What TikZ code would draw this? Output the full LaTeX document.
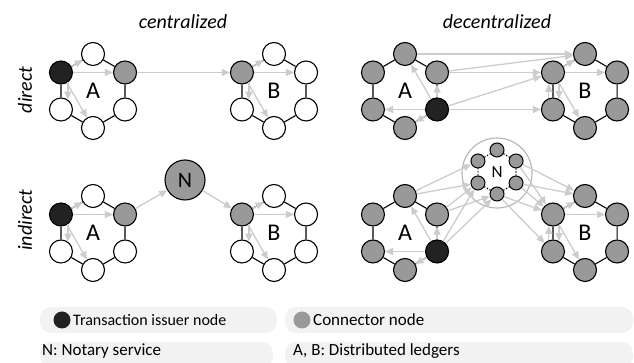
\documentclass[tikz,border=0pt]{standalone}
\usepackage{fontspec}
\setmainfont{Carlito}
\usetikzlibrary{arrows.meta}
\definecolor{issuer}{HTML}{222222}
\definecolor{connector}{HTML}{999999}
\definecolor{flowgray}{HTML}{CCCCCC}
\definecolor{keygray}{HTML}{F2F2F2}
\definecolor{ringgray}{HTML}{B4B4B4}
\begin{document}
\begin{tikzpicture}[x=1pt,y=1pt]
\tikzset{peer/.style={circle,minimum size=23pt,inner sep=0pt,draw,line width=1.1pt,fill=white},
  notar/.style={circle,minimum size=14pt,inner sep=0pt,draw,line width=1pt,fill=connector},
  flow/.style={-{Triangle[length=8pt,width=7pt]},flowgray,line width=1.3pt},
  ring/.style={line width=1.1pt},
  ledger/.style={font=\fontsize{24}{24}\selectfont},
  heading/.style={font=\fontsize{20}{20}\selectfont\itshape},
  keybox/.style={fill=keygray,rounded corners=11pt,inner sep=0pt,minimum height=26pt},
  keytext/.style={anchor=west,inner sep=0pt,font=\fontsize{17}{17}\selectfont}}

\useasboundingbox (0,0) rectangle (634,363);
\clip (0,0) rectangle (634,363);

% headings
\node[heading] (hcen) at (183,341) {centralized};
\node[heading] (hdec) at (497,341) {decentralized};
\node[heading,rotate=90] (hdir) at (25,273) {direct};
\node[heading,rotate=90] (hind) at (25,143) {indirect};

% centralized, direct
\begin{scope}[shift={(93,272)}]
  \foreach \n/\a/\f in {t/90/white,rt/30/connector,rb/-30/white,b/-90/white,lb/-150/white,lt/150/issuer}
    \draw (\a:37) node[peer,fill=\f] (A1\n) {};
  \node[ledger] (A1lab) at (0,0) {A};
\end{scope}
\begin{scope}[shift={(274,272)}]
  \foreach \n/\a/\f in {t/90/white,rt/30/white,rb/-30/white,b/-90/white,lb/-150/white,lt/150/connector}
    \draw (\a:37) node[peer,fill=\f] (B1\n) {};
  \node[ledger] (B1lab) at (0,0) {B};
\end{scope}

% centralized, indirect
\begin{scope}[shift={(93,130)}]
  \foreach \n/\a/\f in {t/90/white,rt/30/connector,rb/-30/white,b/-90/white,lb/-150/white,lt/150/issuer}
    \draw (\a:37) node[peer,fill=\f] (A3\n) {};
  \node[ledger] (A3lab) at (0,0) {A};
\end{scope}
\begin{scope}[shift={(274,130)}]
  \foreach \n/\a/\f in {t/90/white,rt/30/white,rb/-30/white,b/-90/white,lb/-150/white,lt/150/connector}
    \draw (\a:37) node[peer,fill=\f] (B3\n) {};
  \node[ledger] (B3lab) at (0,0) {B};
\end{scope}
\draw (185,183) node[peer,minimum size=40pt,fill=connector,font=\fontsize{22}{22}\selectfont] (N1) {N};

% decentralized, direct
\begin{scope}[shift={(405,272)}]
  \foreach \n/\a/\f in {t/90/connector,rt/30/connector,rb/-30/issuer,b/-90/connector,lb/-150/connector,lt/150/connector}
    \draw (\a:37) node[peer,fill=\f] (A2\n) {};
  \node[ledger] (A2lab) at (0,0) {A};
\end{scope}
\begin{scope}[shift={(585,272)}]
  \foreach \n/\a in {t/90,rt/30,rb/-30,b/-90,lb/-150,lt/150}
    \draw (\a:37) node[peer,fill=connector] (B2\n) {};
  \node[ledger] (B2lab) at (0,0) {B};
\end{scope}

% decentralized, indirect
\begin{scope}[shift={(405,130)}]
  \foreach \n/\a/\f in {t/90/connector,rt/30/connector,rb/-30/issuer,b/-90/connector,lb/-150/connector,lt/150/connector}
    \draw (\a:37) node[peer,fill=\f] (A4\n) {};
  \node[ledger] (A4lab) at (0,0) {A};
\end{scope}
\begin{scope}[shift={(585,130)}]
  \foreach \n/\a in {t/90,rt/30,rb/-30,b/-90,lb/-150,lt/150}
    \draw (\a:37) node[peer,fill=connector] (B4\n) {};
  \node[ledger] (B4lab) at (0,0) {B};
\end{scope}
\node[circle,draw=ringgray,line width=1.1pt,minimum size=70pt] (Nring) at (497,190) {};
\begin{scope}[shift={(497,191)}]
  \foreach \n/\a in {t/90,rt/30,rb/-30,b/-90,lb/-150,lt/150}
    \draw (\a:22) node[notar] (N\n) {};
  \node[font=\fontsize{17}{17}\selectfont] (Nlab) at (0,0) {N};
\end{scope}
\draw[line width=1.2pt,dash pattern=on 1.2pt off 1.8pt] (Nt) -- (Nrt) -- (Nrb) -- (Nb) -- (Nlb) -- (Nlt) -- (Nt);

% rings
\foreach \l in {A1,B1,A2,B2,A3,B3,A4,B4}
  \draw[ring] (\l t) -- (\l rt) -- (\l rb) -- (\l b) -- (\l lb) -- (\l lt) -- (\l t);

% flows inside the ledgers
\foreach \l in {A1,B1,A3,B3}{
  \draw[flow] (\l lt) -- (\l t);
  \draw[flow] (\l lt) -- (\l rt);
  \draw[flow] (\l lt.-55) -- (\l lb.55);
  \draw[flow] (\l lt) -- (\l b);
}
\foreach \l in {A2,A4}{
  \draw[flow] (\l rb) -- (\l t);
  \draw[flow] (\l rb) -- (\l rt);
  \draw[flow] (\l rb) -- (\l lb);
  \draw[flow] (\l rb) -- (\l b);
}
\foreach \l in {B2,B4}{
  \draw[flow] (\l lb.110) -- (\l lt.-110);
  \draw[flow] (\l lt.-60) -- (\l lb.60);
}

% flows between the ledgers
\draw[flow] (A1rt) -- (B1lt);
\draw[flow] (A3rt) -- (N1);
\draw[flow] (N1) -- (B3lt);

\draw[flow] (A2t) -- (B2t);
\draw[flow] (A2rt) -- (B2t);
\draw[flow] (A2rt) -- (B2lt);
\draw[flow] (A2rb) -- (B2lt);
\draw[flow] (A2rb) -- (B2lb);

\draw[flow] (A4t) -- (Nlt);
\draw[flow] (A4t) -- (Nlb);
\draw[flow] (A4rt) -- (Nlb);
\draw[flow] (A4rt) -- (Nb);
\draw[flow] (A4rb) -- (Nlb);
\draw[flow] (A4rb) -- (Nb);
\draw[flow] (Nrt) -- (B4t);
\draw[flow] (Nrb) -- (B4t);
\draw[flow] (Nrt) -- (B4lt);
\draw[flow] (Nrb) -- (B4lt);
\draw[flow] (Nb) -- (B4lt);
\draw[flow] (Nb) -- (B4lb);

\foreach \l in {B2,B4}{
  \draw[flow] (\l lt) -- (\l t);
  \draw[flow] (\l lt) -- (\l rt);
  \draw[flow] (\l lt) -- (\l b);
}

% legend
\node[keybox,minimum width=237pt] (key1) at (158.5,43) {};
\node[keybox,minimum width=348pt] (key2) at (459,43) {};
\node[keybox,minimum width=233pt] (key3) at (156.5,8) {};
\node[keybox,minimum width=348pt] (key4) at (459,8) {};
\node[circle,fill=issuer,minimum size=17pt,inner sep=0pt] (dotI) at (62,43) {};
\node[keytext,font=\fontsize{16}{16}\selectfont] (txtI) at (73,43) {Transaction issuer node};
\node[circle,fill=connector,minimum size=17pt,inner sep=0pt] (dotC) at (302,43) {};
\node[keytext] (txtC) at (313,43) {Connector node};
\node[keytext] (txtN) at (42,12) {N: Notary service};
\node[keytext] (txtL) at (293,12) {A, B: Distributed ledgers};
\end{tikzpicture}
\end{document}
